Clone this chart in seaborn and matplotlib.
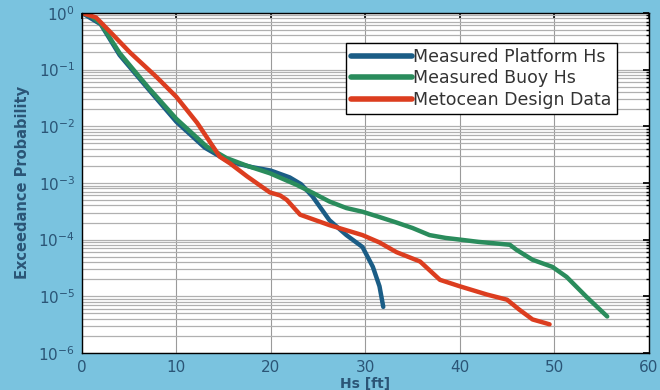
import numpy as np
import pandas as pd
import seaborn as sns
import matplotlib.pyplot as plt
from matplotlib.ticker import LogLocator, NullFormatter

# Exceedance curves (Hs in ft, probability)
hs_platform = [0, 2, 4, 7, 10, 13, 15.5, 18, 20, 22, 23.2, 24.4, 26.2, 28, 29.7, 30.8, 31.5, 31.9]
p_platform = [1.0, 6.3e-1, 1.8e-1, 4.6e-2, 1.2e-2, 4.2e-3, 2.4e-3, 1.9e-3, 1.65e-3, 1.25e-3,
              9.5e-4, 5.8e-4, 2.2e-4, 1.2e-4, 7.4e-5, 3.3e-5, 1.5e-5, 6.5e-6]

hs_buoy = [0, 1, 2, 4, 7, 10, 13.2, 15.3, 17.5, 19.9, 22.7, 24.5, 26.2, 28, 29.7, 31.5, 33.3,
           35, 36.8, 38.5, 40, 42, 44, 45.3, 46, 47.7, 49.8, 51.3, 53.4, 55.6]
p_buoy = [1.0, 8.7e-1, 6.5e-1, 1.95e-1, 4.9e-2, 1.35e-2, 4.4e-3, 2.75e-3, 2.0e-3, 1.48e-3,
          9.3e-4, 6.6e-4, 4.7e-4, 3.6e-4, 3.1e-4, 2.5e-4, 2.0e-4, 1.6e-4, 1.2e-4, 1.07e-4,
          1.0e-4, 9.1e-5, 8.5e-5, 8.1e-5, 6.6e-5, 4.4e-5, 3.3e-5, 2.2e-5, 9.8e-6, 4.4e-6]

hs_design = [0, 1.5, 3.3, 5.1, 7.9, 10, 12.2, 14.6, 15.7, 17.5, 19.9, 21, 21.7, 23.1, 26.2,
             29.7, 31.5, 33.3, 35.8, 37.9, 40, 42.9, 45, 46.3, 47.7, 49.5]
p_design = [1.0, 8.3e-1, 4.1e-1, 2.0e-1, 7.4e-2, 3.3e-2, 1.15e-2, 2.9e-3, 2.2e-3, 1.3e-3,
            6.8e-4, 6.0e-4, 5.0e-4, 2.75e-4, 1.8e-4, 1.2e-4, 8.9e-5, 6.0e-5, 4.1e-5, 1.95e-5,
            1.5e-5, 1.07e-5, 8.7e-6, 5.8e-6, 3.9e-6, 3.2e-6]

series = ["Measured Platform Hs", "Measured Buoy Hs", "Metocean Design Data"]
colors = ["#1b5d86", "#2a8c5c", "#dc3d1f"]

df = pd.concat([
    pd.DataFrame({"Hs": hs_platform, "P": p_platform, "Source": series[0]}),
    pd.DataFrame({"Hs": hs_buoy, "P": p_buoy, "Source": series[1]}),
    pd.DataFrame({"Hs": hs_design, "P": p_design, "Source": series[2]}),
])

sns.set_theme(style="white")
plt.rcParams['font.family'] = ['DejaVu Sans']

bg = "#7ac3df"
txt = "#2b5576"
fig = plt.figure(figsize=(6.6, 3.9), dpi=100, facecolor=bg)
ax = fig.add_axes([0.124, 0.095, 0.859, 0.872])
ax.set_facecolor("white")

sns.lineplot(data=df, x="Hs", y="P", hue="Source", hue_order=series, palette=colors,
             sort=False, estimator=None, linewidth=3.2, ax=ax)

ax.set_yscale("log")
ax.set_xlim(0, 60)
ax.set_ylim(1e-6, 1.0)
ax.set_xticks([0, 10, 20, 30, 40, 50, 60])
ax.yaxis.set_major_locator(LogLocator(base=10, numticks=10))
ax.yaxis.set_minor_locator(LogLocator(base=10, subs=np.arange(2, 10), numticks=20))
ax.yaxis.set_minor_formatter(NullFormatter())

# grid: vertical at major x, horizontal at every log step
ax.grid(True, which="major", axis="x", color="#9a9a9a", linewidth=0.8)
ax.grid(True, which="both", axis="y", color="#b0b0b0", linewidth=0.9)
ax.set_axisbelow(True)

ax.tick_params(axis="both", which="both", direction="in", top=True, right=True,
               colors="black", labelcolor=txt, labelsize=11)
ax.tick_params(axis="both", which="major", length=4, pad=5)
ax.tick_params(axis="y", which="minor", length=2)

for s in ax.spines.values():
    s.set_color("black")
    s.set_linewidth(1.0)

ax.set_xlabel("Hs [ft]", fontsize=10, fontweight="bold", color=txt)
ax.xaxis.set_label_coords(0.5, -0.09)
ax.xaxis.label.set_va("center")
ax.set_ylabel("Exceedance Probability", fontsize=10.5, fontweight="bold", color=txt, labelpad=6)

# Move the legend to the upper right with a square black frame
handles, labels = ax.get_legend_handles_labels()
leg = ax.legend(handles, labels, loc="upper right", bbox_to_anchor=(0.944, 0.912),
                fontsize=12.5, handlelength=3.5, handletextpad=0.1, borderpad=0.3,
                labelspacing=0.2, borderaxespad=0, fancybox=False, framealpha=1,
                edgecolor="black")
leg.get_frame().set_linewidth(1.0)
for line in leg.get_lines():
    line.set_linewidth(4)
for t in leg.get_texts():
    t.set_color("#333333")

plt.savefig("out.png", dpi=100, facecolor=bg)
